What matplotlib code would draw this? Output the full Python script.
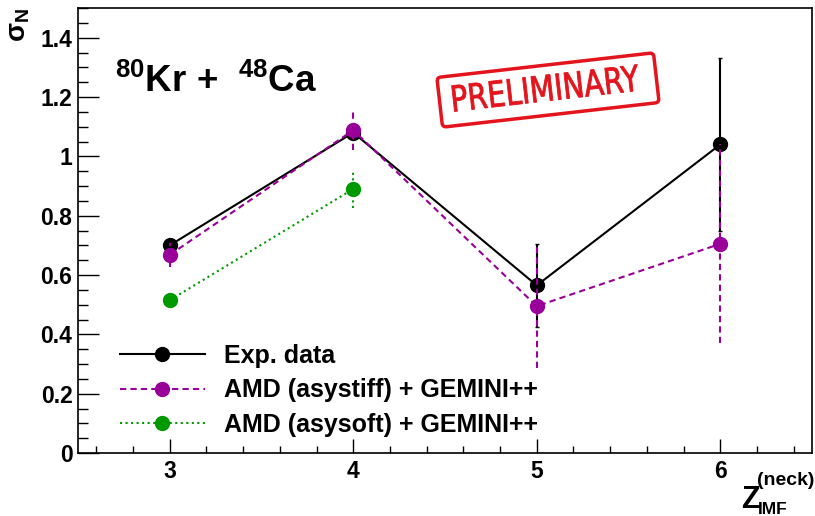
import numpy as np
import matplotlib
matplotlib.use("Agg")
import matplotlib.pyplot as plt
from matplotlib.ticker import MultipleLocator, FuncFormatter
from matplotlib.lines import Line2D
from matplotlib.textpath import TextPath
from matplotlib.patches import PathPatch, FancyBboxPatch
from matplotlib.transforms import Affine2D
from matplotlib.font_manager import FontProperties

plt.rcParams['font.family'] = ['Liberation Sans', 'DejaVu Sans']
plt.rcParams['font.weight'] = 'bold'
plt.rcParams['mathtext.fontset'] = 'custom'
plt.rcParams['mathtext.rm'] = 'Liberation Sans:bold'
plt.rcParams['mathtext.bf'] = 'Liberation Sans:bold'
plt.rcParams['mathtext.it'] = 'Liberation Sans:bold'

# --- données ---
z_imf = [3, 4, 5, 6]
exp_sigma = [0.70, 1.08, 0.565, 1.04]
exp_err = [0.01, 0.01, 0.14, 0.29]

z_stiff = [3, 4, 5, 6]
stiff_sigma = [0.668, 1.088, 0.495, 0.705]
stiff_err = [0.04, 0.065, 0.21, 0.335]

z_soft = [3, 4]
soft_sigma = [0.515, 0.89]
soft_err = [0.005, 0.065]

labels = ["Exp. data", "AMD (asystiff) + GEMINI++", "AMD (asysoft) + GEMINI++"]

purple = "#990099"
green = "#009900"
red = "#e3141c"

fig = plt.figure(figsize=(8.15, 5.16), dpi=100)
ax = fig.add_axes([78 / 815, 1 - 453 / 516, 734 / 815, 445 / 516])

# exp
eb = ax.errorbar(z_imf, exp_sigma, yerr=exp_err, color='black', lw=1.5,
                 marker='o', ms=10, capsize=1.5, elinewidth=1.5, zorder=3)

# asystiff
eb = ax.errorbar(z_stiff, stiff_sigma, yerr=stiff_err, color=purple, lw=1.5,
                 marker='o', ms=10, elinewidth=1.5, zorder=4)
eb[0].set_dashes([3, 2])
eb[2][0].set_linestyle((0, (3, 2)))

# asysoft
eb = ax.errorbar(z_soft, soft_sigma, yerr=soft_err, color=green, lw=1.5,
                 marker='o', ms=10, elinewidth=1.5, zorder=4)
eb[0].set_linestyle(':')
eb[2][0].set_linestyle(':')

ax.set_xlim(2.5, 6.5)
ax.set_ylim(0, 1.5)
ax.xaxis.set_major_locator(MultipleLocator(1))
ax.xaxis.set_minor_locator(MultipleLocator(0.2))
ax.yaxis.set_major_locator(MultipleLocator(0.2))
ax.yaxis.set_minor_locator(MultipleLocator(0.05))
ax.yaxis.set_major_formatter(FuncFormatter(lambda v, p: f"{v:g}"))
ax.tick_params(which='both', direction='in', top=False, right=False, labelsize=16.5, width=1.0)
ax.tick_params(axis='y', which='major', length=15, pad=4)
ax.tick_params(axis='y', which='minor', length=7)
ax.tick_params(axis='x', which='major', length=10, pad=5)
ax.tick_params(axis='x', which='minor', length=5)
for s in ax.spines.values():
    s.set_linewidth(1.2)

# légende
handles = [
    Line2D([], [], color='black', lw=1.5, marker='o', ms=10),
    Line2D([], [], color=purple, lw=1.5, marker='o', ms=10, dashes=[3, 2]),
    Line2D([], [], color=green, lw=1.5, marker='o', ms=10, linestyle=':'),
]
ax.legend(handles, labels, loc='upper left', bbox_to_anchor=(0.057, 0.245),
          frameon=False, fontsize=18, handlelength=3.4, handletextpad=0.75,
          labelspacing=0.42, borderpad=0, borderaxespad=0)

# titre réaction
ax.text(2.70, 1.218, r'$^{80}$Kr +  $^{48}$Ca', fontsize=26.5, fontweight='bold',
        va='baseline', ha='left')

# axes labels
fig.text(19 / 815, 1 - 8 / 516, r'$\mathrm{σ}_{\mathrm{N}}$', rotation=90,
         fontsize=20, ha='center', va='top')
fig.text(741 / 815, 8 / 516, 'Z', fontsize=22, ha='left', va='baseline')
fig.text(757 / 815, 31 / 516, '(neck)', fontsize=14, ha='left', va='baseline')
fig.text(758 / 815, 2 / 516, 'IMF', fontsize=12.5, ha='left', va='baseline')

# tampon PRELIMINARY
tp = TextPath((0, 0), "PRELIMINARY", size=34,
              prop=FontProperties(family='DejaVu Sans', weight='normal'))
ext = tp.get_extents()
cx, cy, ang = 546, 516 - 88, 6.5
tr = (Affine2D().translate(-ext.x0 - ext.width / 2, -ext.y0 - ext.height / 2)
      .scale(187 / ext.width, 26 / ext.height).rotate_deg(ang).translate(cx, cy))
fig.add_artist(PathPatch(tp, transform=tr, fc=red, ec=red, lw=0.6))
box = FancyBboxPatch((-109, -25), 218, 50, boxstyle='round,pad=0,rounding_size=4',
                     transform=Affine2D().rotate_deg(ang).translate(548, 516 - 90),
                     fill=False, ec=red, lw=2.5)
fig.add_artist(box)

fig.savefig("out.png", dpi=100)
